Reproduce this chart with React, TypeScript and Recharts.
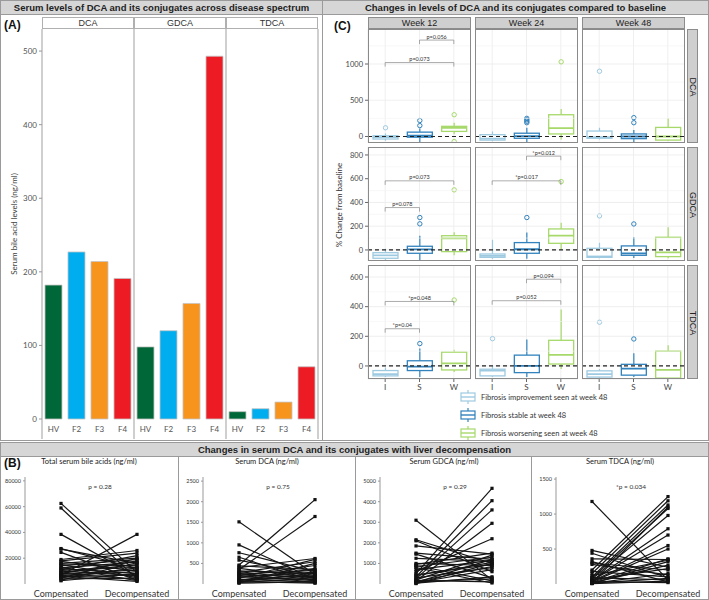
import React from 'react'
import {
  BarChart,
  Bar,
  Cell,
  XAxis,
  YAxis,
  ComposedChart,
  LineChart,
  Line,
  CartesianGrid,
  ReferenceLine,
} from 'recharts'

// ---------- panel A: levels across disease spectrum ----------
const STAGES = ['HV', 'F2', 'F3', 'F4']
const STAGE_COLORS = ['#006838', '#00aeef', '#f7941d', '#ed1c24']
const BILE_ACIDS = ['DCA', 'GDCA', 'TDCA']
const DCA_LEVELS = [182, 227, 214, 191]
const GDCA_LEVELS = [98, 120, 157, 493]
const TDCA_LEVELS = [10, 14, 23, 71]
const LEVEL_TICKS = [0, 100, 200, 300, 400, 500]

// ---------- panel C: change from baseline ----------
const WEEKS = ['Week 12', 'Week 24', 'Week 48']
const GROUPS = ['I', 'S', 'W']
const GROUP_COLORS = ['#9ecae1', '#3182bd', '#a6d96a']
const GROUP_LABELS = [
  'Fibrosis improvement seen at week 48',
  'Fibrosis stable at week 48',
  'Fibrosis worsening seen at week 48',
]

// each group: [lower whisker, q1, median, q3, upper whisker]
const DCA_W12 = [[-60, -35, -10, 10, 40], [-90, -10, 10, 60, 110], [30, 70, 120, 140, 190]]
const DCA_W24 = [[-65, -50, -30, 25, 70], [-80, -25, 5, 45, 120], [-40, 35, 115, 300, 380]]
const DCA_W48 = [[-40, -25, -10, 75, 120], [-80, -30, 0, 35, 90], [-60, -50, 0, 125, 250]]
const GDCA_W12 = [[-85, -70, -45, -23, 10], [-85, -28, 5, 31, 120], [-45, -14, 98, 120, 150]]
const GDCA_W24 = [[-75, -62, -50, -34, 85], [-75, -28, 6, 62, 146], [0, 56, 120, 177, 230]]
const GDCA_W48 = [[-70, -62, -55, 14, 60], [-68, -45, -28, 34, 107], [-70, -56, -20, 107, 192]]
const TDCA_W12 = [[-75, -67, -55, -31, -10], [-75, -31, -4, 35, 118], [-40, -27, 18, 93, 110]]
const TDCA_W24 = [[-75, -67, -31, -22, 0], [-75, -45, 0, 73, 178], [-20, 13, 75, 173, 380]]
const TDCA_W48 = [[-80, -75, -55, -33, -20], [-75, -62, -18, 11, 85], [-82, -82, -27, 100, 140]]

const DCA_W12_OUT = [[120], [150, 220], [300, -70]]
const DCA_W24_OUT = [[], [190, 210, 230, 250], [1030]]
const DCA_W48_OUT = [[900], [190, 260], []]
const GDCA_W12_OUT = [[], [220, 273], [506]]
const GDCA_W24_OUT = [[], [273], [576]]
const GDCA_W48_OUT = [[287], [219], []]
const TDCA_W12_OUT = [[], [151], [445]]
const TDCA_W24_OUT = [[184], [], []]
const TDCA_W48_OUT = [[295], [182], []]

const DCA_W12_P = [
  { from: 'I', to: 'W', y: 1020, text: 'p=0.073' },
  { from: 'S', to: 'W', y: 1330, text: 'p=0.056' },
]
const GDCA_W12_P = [
  { from: 'I', to: 'S', y: 357, text: 'p=0.078' },
  { from: 'I', to: 'W', y: 582, text: 'p=0.073' },
]
const GDCA_W24_P = [
  { from: 'I', to: 'W', y: 582, text: '*p=0.017' },
  { from: 'S', to: 'W', y: 790, text: '*p=0.012' },
]
const TDCA_W12_P = [
  { from: 'I', to: 'S', y: 251, text: '*p=0.04' },
  { from: 'I', to: 'W', y: 435, text: '*p=0.048' },
]
const TDCA_W24_P = [
  { from: 'I', to: 'W', y: 440, text: 'p=0.052' },
  { from: 'S', to: 'W', y: 585, text: 'p=0.094' },
]

const BOX_STATS = [
  [DCA_W12, DCA_W24, DCA_W48],
  [GDCA_W12, GDCA_W24, GDCA_W48],
  [TDCA_W12, TDCA_W24, TDCA_W48],
]
const BOX_OUTLIERS = [
  [DCA_W12_OUT, DCA_W24_OUT, DCA_W48_OUT],
  [GDCA_W12_OUT, GDCA_W24_OUT, GDCA_W48_OUT],
  [TDCA_W12_OUT, TDCA_W24_OUT, TDCA_W48_OUT],
]
const BOX_PVALUES = [
  [DCA_W12_P, [], []],
  [GDCA_W12_P, GDCA_W24_P, []],
  [TDCA_W12_P, TDCA_W24_P, []],
]

const ROW_AXES = [
  { domain: [-90, 1483], ticks: [0, 500, 1000], minor: [250, 750, 1250], drop: 55 },
  { domain: [-93, 867], ticks: [0, 200, 400, 600, 800], minor: [100, 300, 500, 700], drop: 34 },
  { domain: [-88, 681], ticks: [0, 200, 400, 600], minor: [100, 300, 500], drop: 27 },
]

// ---------- panel B: compensated vs decompensated ----------
const STATES = ['Compensated', 'Decompensated']

const TOTAL_COMP = [62500, 59000, 38500, 27500, 27000, 24500, 19000, 18000, 17500, 16000, 15500, 15000, 14000, 13000, 12500, 12000, 11000, 10500, 10000, 9000, 8500, 8000, 7500, 7000, 6500, 6000, 5500, 5000, 4500, 4000, 3000, 2500]
const TOTAL_DECOMP = [9000, 4000, 6000, 12000, 16000, 3000, 26000, 24000, 10000, 20000, 14000, 5000, 19000, 2500, 17000, 8000, 22000, 13000, 6500, 15000, 3500, 18000, 11000, 38500, 9500, 2000, 7000, 12500, 20000, 4500, 16500, 8000]

const DCA_COMP = [1510, 950, 760, 650, 580, 460, 440, 400, 380, 350, 320, 300, 280, 260, 240, 220, 200, 180, 160, 140, 120, 100, 90, 80, 60, 50, 40, 30, 20]
const DCA_DECOMP = [230, 120, 300, 60, 200, 2050, 350, 620, 150, 1640, 250, 100, 540, 30, 330, 180, 450, 80, 290, 600, 40, 220, 160, 380, 20, 270, 130, 500, 60]

const GDCA_COMP = [3100, 2150, 2100, 1850, 1500, 1450, 1250, 1000, 950, 900, 850, 800, 700, 600, 500, 450, 400, 350, 300, 250, 200, 180, 150, 120, 100, 80, 60, 40, 20]
const GDCA_DECOMP = [200, 1000, 600, 1450, 1200, 300, 1100, 900, 1500, 150, 1300, 50, 1150, 2200, 4650, 950, 1050, 4050, 800, 3600, 1400, 100, 2950, 850, 250, 1200, 700, 350, 1000]

const TDCA_COMP = [1180, 480, 440, 360, 320, 300, 280, 200, 180, 150, 120, 100, 90, 80, 70, 60, 50, 45, 40, 35, 30, 25, 20, 15, 10, 5, 8, 12]
const TDCA_DECOMP = [60, 240, 90, 350, 30, 200, 130, 1250, 100, 1190, 340, 1130, 60, 1080, 980, 220, 790, 700, 550, 20, 500, 360, 1100, 270, 150, 40, 320, 80]

const PAIRED = [
  { title: 'Total serum bile acids (ng/ml)', comp: TOTAL_COMP, decomp: TOTAL_DECOMP, max: 83000, ticks: [20000, 40000, 60000, 80000], p: 'p = 0.28' },
  { title: 'Serum DCA (ng/ml)', comp: DCA_COMP, decomp: DCA_DECOMP, max: 2600, ticks: [500, 1000, 1500, 2000, 2500], p: 'p = 0.75' },
  { title: 'Serum GDCA (ng/ml)', comp: GDCA_COMP, decomp: GDCA_DECOMP, max: 5200, ticks: [1000, 2000, 3000, 4000, 5000], p: 'p = 0.29' },
  { title: 'Serum TDCA (ng/ml)', comp: TDCA_COMP, decomp: TDCA_DECOMP, max: 1530, ticks: [500, 1000, 1500], p: '*p = 0.034' },
]

const TXT = 'Lato, "Open Sans", sans-serif'
const HEAD = '"Liberation Sans", Arial, sans-serif'

const FACET_X = [42, 134, 226]
const FACET_W = 92
const COL_X = [368, 475, 582]
const ROW_Y = [29, 147, 265]
const PANEL_W = 103
const PANEL_H = 114
const SUB_X = [0, 178, 355, 531]

const abs = (s: React.CSSProperties): React.CSSProperties => ({ position: 'absolute', ...s })

function TitleBar({ left, width, top, text }: { left: number; width: number; top: number; text: string }) {
  return (
    <div
      style={abs({
        left,
        top,
        width,
        height: 15,
        background: '#d6d6d6',
        border: '1px solid #9a9a9a',
        boxSizing: 'border-box',
        font: `bold 9.5px ${HEAD}`,
        color: '#222',
        textAlign: 'center',
        lineHeight: '13px',
      })}
    >
      {text}
    </div>
  )
}

function LevelFacet({ idx }: { idx: number }) {
  const values = [DCA_LEVELS, GDCA_LEVELS, TDCA_LEVELS][idx]
  const data = STAGES.map((s, i) => ({ stage: s, value: values[i], color: STAGE_COLORS[i] }))
  const first = idx === 0
  const yw = first ? 42 : 0
  return (
    <div style={abs({ left: FACET_X[idx] - yw, top: 29 })}>
      <BarChart width={FACET_W + yw} height={410} data={data} margin={{ top: 0, right: 0, bottom: 0, left: 0 }} barCategoryGap="13%">
        <XAxis
          dataKey="stage"
          height={20}
          axisLine={false}
          tickLine={false}
          tickMargin={1}
          tick={{ fontSize: 8, fill: '#555', fontFamily: TXT }}
        />
        <YAxis
          hide={!first}
          width={42}
          type="number"
          domain={[0, 530]}
          ticks={LEVEL_TICKS}
          axisLine={false}
          tickSize={3}
          tickLine={{ stroke: '#999' }}
          tick={{ fontSize: 8, fill: '#555', fontFamily: TXT }}
        />
        <Bar dataKey="value" stroke="#c4c4c4" strokeWidth={0.8} isAnimationActive={false}>
          {data.map((d, i) => (
            <Cell key={`c-${i}`} fill={d.color} />
          ))}
        </Bar>
      </BarChart>
    </div>
  )
}

const BoxShape = (props: any) => {
  const { x, y, width, height, payload } = props
  const [lo, q1, med, q3, hi] = payload.stats
  const top = Math.min(y, y + height)
  const h = Math.abs(height)
  const py = (v: number) => top + (h * (hi - v)) / (hi - lo)
  const cx = x + width / 2
  const c = payload.color
  return (
    <g>
      <line x1={cx} x2={cx} y1={py(hi)} y2={py(q3)} stroke={c} strokeWidth={1.2} />
      <line x1={cx} x2={cx} y1={py(q1)} y2={py(lo)} stroke={c} strokeWidth={1.2} />
      <rect x={x} y={py(q3)} width={width} height={Math.max(py(q1) - py(q3), 1)} fill="#fff" stroke={c} strokeWidth={1.3} />
      <line x1={x} x2={x + width} y1={py(med)} y2={py(med)} stroke={c} strokeWidth={1.8} />
      {payload.out.map((o: number, k: number) => (
        <circle key={k} cx={cx} cy={py(o)} r={2.2} fill="none" stroke={c} strokeWidth={1} />
      ))}
    </g>
  )
}

function BoxFacet({ row, col }: { row: number; col: number }) {
  const cfg = ROW_AXES[row]
  const stats = BOX_STATS[row][col]
  const outs = BOX_OUTLIERS[row][col]
  const pvals = BOX_PVALUES[row][col]
  const data = GROUPS.map((g, i) => ({
    g,
    range: [stats[i][0], stats[i][4]],
    stats: stats[i],
    out: outs[i],
    color: GROUP_COLORS[i],
  }))
  const first = col === 0
  const last = row === 2
  const yw = first ? 30 : 0
  return (
    <div style={abs({ left: COL_X[col] - yw, top: ROW_Y[row] })}>
      <ComposedChart width={PANEL_W + yw} height={PANEL_H + (last ? 14 : 0)} data={data} margin={{ top: 0, right: 0, bottom: 0, left: 0 }}>
        <CartesianGrid stroke="#ebebeb" strokeWidth={0.8} />
        {cfg.minor.map((v) => (
          <ReferenceLine key={`m${v}`} y={v} stroke="#f3f3f3" strokeWidth={0.6} />
        ))}
        <XAxis
          dataKey="g"
          hide={!last}
          height={14}
          axisLine={false}
          tickSize={3}
          tickLine={{ stroke: '#666' }}
          tick={{ fontSize: 8, fill: '#444', fontFamily: TXT }}
        />
        <YAxis
          hide={!first}
          width={30}
          type="number"
          domain={cfg.domain}
          allowDataOverflow
          ticks={cfg.ticks}
          axisLine={false}
          tickSize={3}
          tickLine={{ stroke: '#666' }}
          tick={{ fontSize: 7.5, fill: '#444', fontFamily: TXT }}
        />
        <Bar dataKey="range" barSize={25} shape={BoxShape} isAnimationActive={false} />
        <ReferenceLine y={0} stroke="#222" strokeDasharray="4 3" strokeWidth={1.2} />
        {pvals.map((b, k) => (
          <ReferenceLine
            key={`h${k}`}
            segment={[
              { x: b.from, y: b.y },
              { x: b.to, y: b.y },
            ]}
            stroke="#888"
            strokeWidth={0.7}
            label={{ value: b.text, position: 'top', fontSize: 5.5, fill: '#333', offset: 1.5 }}
          />
        ))}
        {pvals.map((b, k) => (
          <ReferenceLine
            key={`l${k}`}
            segment={[
              { x: b.from, y: b.y },
              { x: b.from, y: b.y - cfg.drop },
            ]}
            stroke="#888"
            strokeWidth={0.7}
          />
        ))}
        {pvals.map((b, k) => (
          <ReferenceLine
            key={`r${k}`}
            segment={[
              { x: b.to, y: b.y },
              { x: b.to, y: b.y - cfg.drop },
            ]}
            stroke="#888"
            strokeWidth={0.7}
          />
        ))}
      </ComposedChart>
    </div>
  )
}

function LegendIcon({ color }: { color: string }) {
  return (
    <svg width={16} height={14} style={{ display: 'block' }}>
      <line x1={8} x2={8} y1={0} y2={3} stroke={color} strokeWidth={1.2} />
      <rect x={1} y={3} width={14} height={8} fill="#fff" stroke={color} strokeWidth={1.2} />
      <line x1={1} x2={15} y1={7} y2={7} stroke={color} strokeWidth={1.4} />
      <line x1={8} x2={8} y1={11} y2={14} stroke={color} strokeWidth={1.2} />
    </svg>
  )
}

const SquareDot = (p: any) => <rect key={`d${p.index}`} x={p.cx - 1.6} y={p.cy - 1.6} width={3.2} height={3.2} fill="#111" />

function PairedChart({ idx }: { idx: number }) {
  const cfg = PAIRED[idx]
  const data = STATES.map((s, k) => {
    const row: Record<string, any> = { state: s }
    const src = k === 0 ? cfg.comp : cfg.decomp
    src.forEach((v, i) => {
      row[`p${i}`] = v
    })
    return row
  })
  return (
    <div style={abs({ left: SUB_X[idx] + 1, top: 470 })}>
      <LineChart width={172} height={128} data={data} margin={{ top: 7, right: 0, bottom: 0, left: 0 }}>
        <XAxis
          dataKey="state"
          height={14}
          padding={{ left: 36, right: 36 }}
          axisLine={false}
          tickLine={false}
          tickMargin={1}
          tick={{ fontSize: 9, fill: '#333', fontFamily: TXT }}
        />
        <YAxis
          width={24}
          type="number"
          domain={[0, cfg.max]}
          ticks={cfg.ticks}
          axisLine={{ stroke: '#999' }}
          tickSize={2}
          tickLine={{ stroke: '#999' }}
          tick={{ fontSize: 5.5, fill: '#333', fontFamily: TXT }}
        />
        {cfg.comp.map((_, i) => (
          <Line
            key={`p${i}`}
            dataKey={`p${i}`}
            stroke="#151515"
            strokeWidth={1.2}
            dot={SquareDot}
            isAnimationActive={false}
          />
        ))}
      </LineChart>
    </div>
  )
}

export default function App() {
  return (
    <div style={abs({ left: 0, top: 0, width: 709, height: 600, background: '#fff', overflow: 'hidden', fontFamily: TXT })}>
      {/* frames */}
      <div style={abs({ left: 0, top: 0, width: 323, height: 441, border: '1px solid #9a9a9a', boxSizing: 'border-box' })} />
      <div style={abs({ left: 322, top: 0, width: 387, height: 441, border: '1px solid #9a9a9a', boxSizing: 'border-box' })} />
      <div style={abs({ left: 0, top: 442, width: 709, height: 158, border: '1px solid #9a9a9a', boxSizing: 'border-box' })} />
      <TitleBar left={0} top={0} width={323} text="Serum levels of DCA and its conjugates across disease spectrum" />
      <TitleBar left={322} top={0} width={387} text="Changes in levels of DCA and its conjugates compared to baseline" />
      <TitleBar left={0} top={442} width={709} text="Changes in serum DCA and its conjugates with liver decompensation" />

      {/* panel A */}
      <div style={abs({ left: 4, top: 18, font: `bold 12px ${HEAD}`, color: '#111' })}>(A)</div>
      {BILE_ACIDS.map((b, i) => (
        <div
          key={b}
          style={abs({
            left: FACET_X[i],
            top: 17,
            width: FACET_W,
            height: 12,
            border: '1px solid #b0b0b0',
            boxSizing: 'border-box',
            background: '#fff',
            font: `9px ${HEAD}`,
            color: '#333',
            textAlign: 'center',
            lineHeight: '10px',
          })}
        >
          {b}
        </div>
      ))}
      {[42, 134, 226, 318].map((x) => (
        <div key={x} style={abs({ left: x - 1, top: 29, width: 1.5, height: 410, background: '#cfcfcf' })} />
      ))}
      {BILE_ACIDS.map((b, i) => (
        <LevelFacet key={b} idx={i} />
      ))}
      <div
        style={abs({
          left: 14,
          top: 224,
          transform: 'translate(-50%, -50%) rotate(-90deg)',
          whiteSpace: 'nowrap',
          fontSize: 8,
          color: '#444',
        })}
      >
        Serum bile acid levels (ng/ml)
      </div>

      {/* panel C */}
      <div style={abs({ left: 334, top: 19, font: `bold 12px ${HEAD}`, color: '#111' })}>(C)</div>
      {WEEKS.map((w, c) => (
        <div
          key={w}
          style={abs({
            left: COL_X[c],
            top: 17,
            width: PANEL_W,
            height: 12,
            background: '#cfcfcf',
            border: '1px solid #8c8c8c',
            boxSizing: 'border-box',
            font: `9px ${HEAD}`,
            color: '#222',
            textAlign: 'center',
            lineHeight: '10px',
          })}
        >
          {w}
        </div>
      ))}
      {BILE_ACIDS.map((b, r) => (
        <div
          key={b}
          style={abs({
            left: 687,
            top: ROW_Y[r],
            width: 11,
            height: PANEL_H,
            background: '#cfcfcf',
            border: '1px solid #8c8c8c',
            boxSizing: 'border-box',
          })}
        >
          <div
            style={abs({
              left: 5,
              top: PANEL_H / 2,
              transform: 'translate(-50%, -50%) rotate(90deg)',
              font: `9px ${HEAD}`,
              color: '#222',
              whiteSpace: 'nowrap',
            })}
          >
            {b}
          </div>
        </div>
      ))}
      {BILE_ACIDS.map((b, r) =>
        WEEKS.map((w, c) => <BoxFacet key={`${b}-${w}`} row={r} col={c} />)
      )}
      {BILE_ACIDS.map((b, r) =>
        WEEKS.map((w, c) => (
          <div
            key={`f-${b}-${w}`}
            style={abs({
              left: COL_X[c],
              top: ROW_Y[r],
              width: PANEL_W,
              height: PANEL_H,
              border: '1px solid #8a8a8a',
              boxSizing: 'border-box',
              pointerEvents: 'none',
            })}
          />
        ))
      )}
      <div
        style={abs({
          left: 339,
          top: 205,
          transform: 'translate(-50%, -50%) rotate(-90deg)',
          whiteSpace: 'nowrap',
          fontSize: 8,
          color: '#333',
        })}
      >
        % Change from baseline
      </div>
      {GROUP_LABELS.map((l, i) => (
        <div key={l} style={abs({ left: 460, top: 390 + i * 18, display: 'flex', alignItems: 'center', gap: 5 })}>
          <LegendIcon color={GROUP_COLORS[i]} />
          <span style={{ fontSize: 7.5, color: '#333', whiteSpace: 'nowrap' }}>{l}</span>
        </div>
      ))}

      {/* panel B */}
      <div style={abs({ left: 4, top: 456, font: `bold 12px ${HEAD}`, color: '#111' })}>(B)</div>
      {[178, 355, 531].map((x) => (
        <div key={x} style={abs({ left: x, top: 457, width: 1, height: 143, background: '#9a9a9a' })} />
      ))}
      {PAIRED.map((p, i) => (
        <div
          key={p.title}
          style={abs({ left: SUB_X[i], top: 457, width: 178, textAlign: 'center', fontSize: 7.5, color: '#222' })}
        >
          {p.title}
        </div>
      ))}
      {PAIRED.map((p, i) => (
        <PairedChart key={p.title} idx={i} />
      ))}
      {PAIRED.map((p, i) => (
        <div key={`p-${p.title}`} style={abs({ left: SUB_X[i] + 25, top: 483, width: 150, textAlign: 'center', fontSize: 6.5, color: '#333' })}>
          {p.p}
        </div>
      ))}
    </div>
  )
}
